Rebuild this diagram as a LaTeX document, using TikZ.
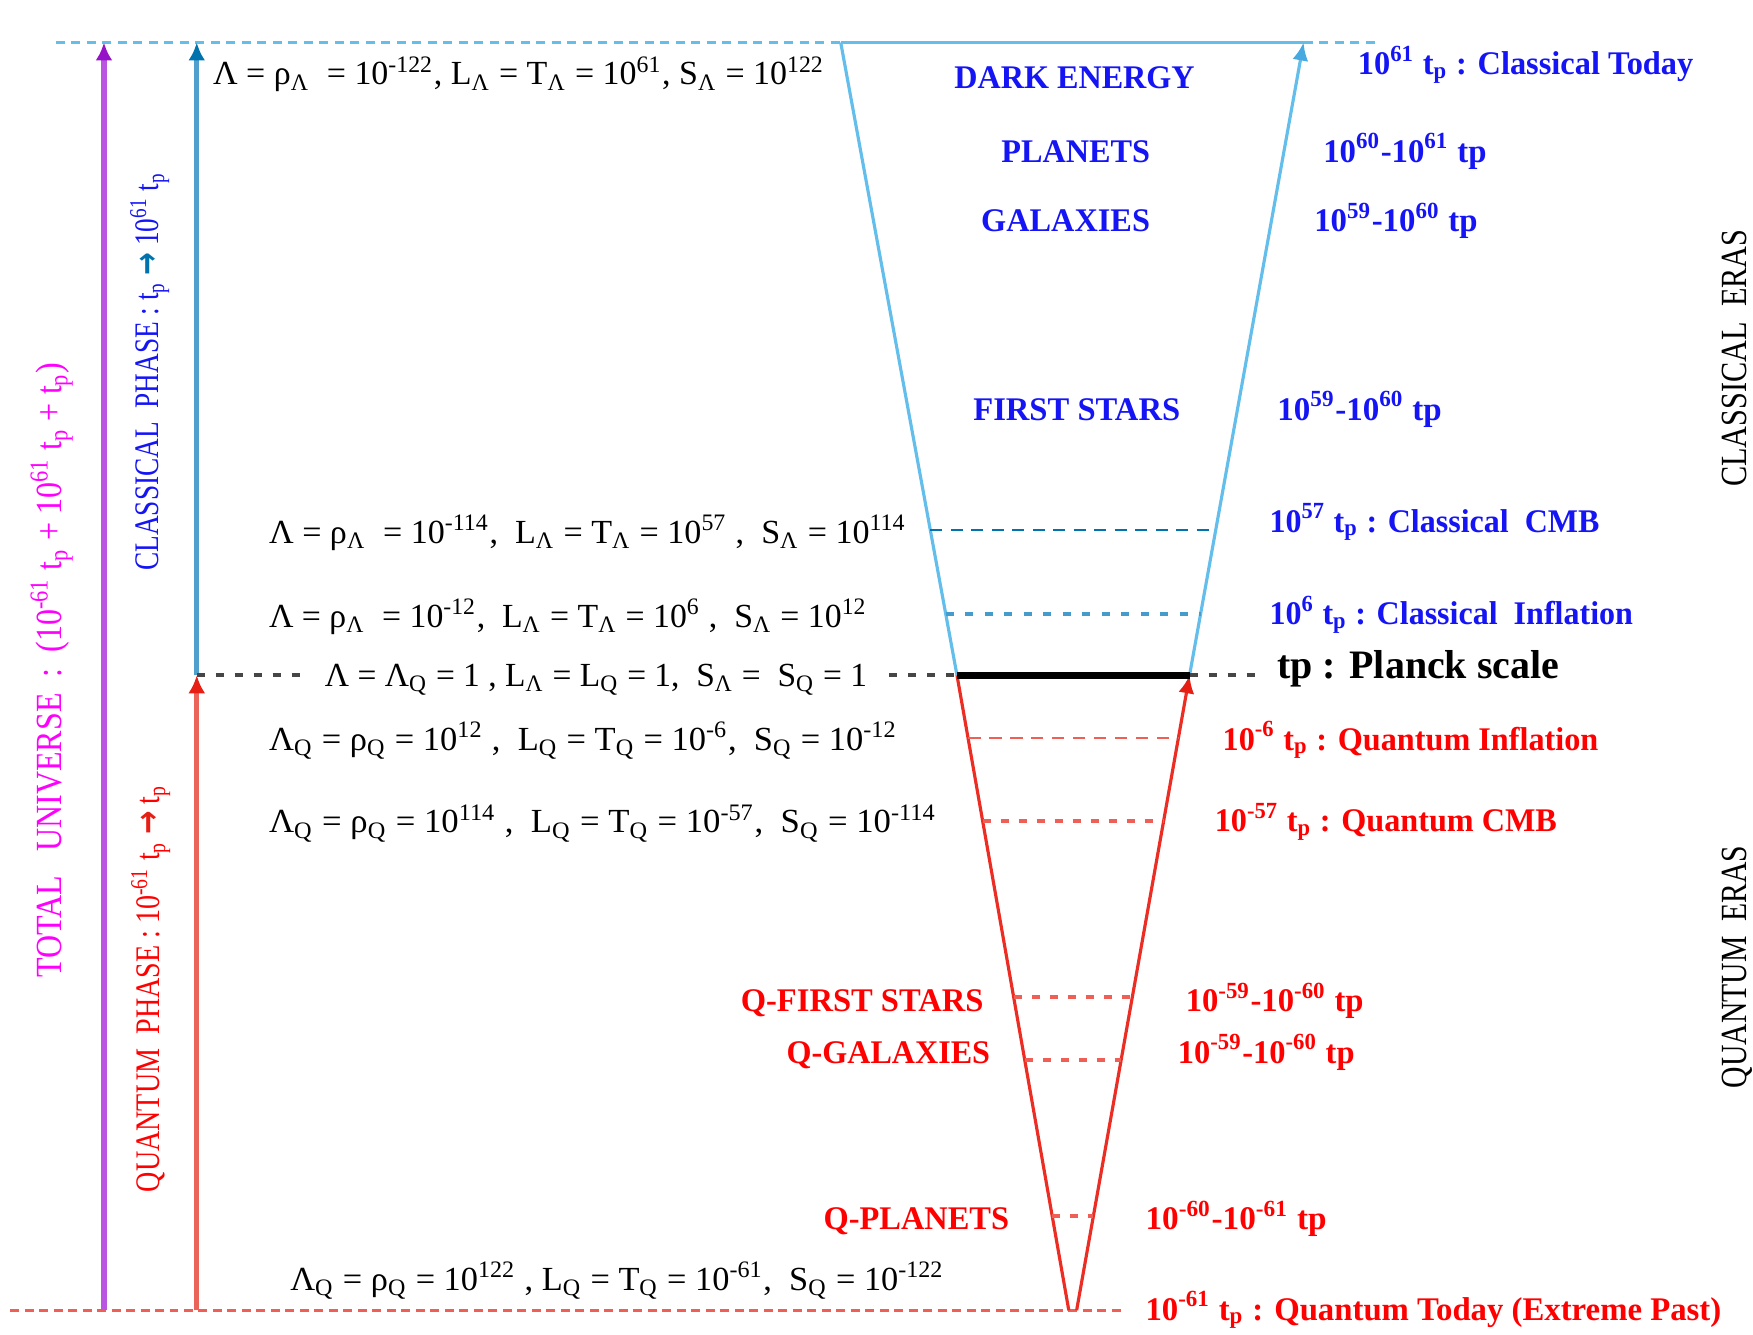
\documentclass[tikz,border=0pt]{standalone}
\usepackage{fontspec}
\setmainfont{Liberation Serif}
\newfontfamily\arrfont{DejaVu Sans}
\usepackage{graphicx}
\usetikzlibrary{arrows.meta,calc}
\newlength\pxu
\setlength\pxu{0.0111798cm}
\newcommand\fitw[2]{\resizebox{#1\pxu}{\height}{#2}}
\newcommand\up[1]{\textsuperscript{#1}}
\newcommand\dn[1]{\textsubscript{#1}}
\newcommand\rarr[1]{\textcolor{#1}{{\arrfont\bfseries →}}}
\definecolor{cpurple}{RGB}{185,85,225}
\definecolor{cpurpleh}{RGB}{150,20,200}
\definecolor{cblue}{RGB}{80,160,205}
\definecolor{cblueh}{RGB}{0,115,175}
\definecolor{csky}{RGB}{100,190,235}
\definecolor{cskyh}{RGB}{70,170,225}
\definecolor{cred}{RGB}{235,100,90}
\definecolor{credh}{RGB}{230,30,20}
\definecolor{cvred}{RGB}{235,45,35}
\definecolor{cdred}{RGB}{240,95,85}
\definecolor{cdblue}{RGB}{0,115,175}
\definecolor{cmblue}{RGB}{70,155,205}
\definecolor{cgray}{RGB}{70,70,70}
\definecolor{ctxtblue}{RGB}{20,20,245}
\definecolor{ctxtred}{RGB}{255,0,0}
\definecolor{cmag}{RGB}{255,0,255}
\begin{document}
\begin{tikzpicture}[x=0.0111798cm,y=-0.0111798cm,
  txt/.style={inner sep=0pt, anchor=base west},
  fm/.style={txt, font=\fontsize{9.6}{11}\selectfont, text=black},
  bl/.style={txt, font=\fontsize{9.4}{11}\selectfont\bfseries, text=ctxtblue},
  rd/.style={txt, font=\fontsize{9.4}{11}\selectfont\bfseries, text=ctxtred},
  vt/.style={txt, rotate=90, font=\fontsize{9.8}{11}\selectfont},
  topdash/.style={csky, line width=0.6pt, dash pattern=on 0.9mm off 0.65mm},
  botdash/.style={cdred, line width=0.7pt, dash pattern=on 0.9mm off 0.55mm},
  pdash/.style={cgray, line width=1.1pt, dash pattern=on 0.8mm off 1.1mm},
  cmbdash/.style={cdblue, line width=0.6pt, dash pattern=on 1.2mm off 0.85mm},
  infdash/.style={cmblue, line width=1.1pt, dash pattern=on 0.8mm off 1.15mm},
  qidash/.style={cdred, line width=0.6pt, dash pattern=on 1.25mm off 0.85mm},
  qdot/.style={cdred, line width=1.2pt, dash pattern=on 0.8mm off 1.0mm},
  funnel/.style={csky, line width=0.9pt},
  vee/.style={cvred, line width=0.9pt},
  tipP/.style={-{Latex[length=1.8mm,width=1.7mm,color=cpurpleh]}},
  tipB/.style={-{Latex[length=1.8mm,width=1.7mm,color=cblueh]}},
  tipR/.style={-{Latex[length=1.8mm,width=1.7mm,color=credh]}},
  tipS/.style={-{Latex[length=1.8mm,width=1.6mm,color=cskyh]}},
  tipV/.style={-{Latex[length=1.8mm,width=1.6mm,color=credh]}}
]
\useasboundingbox (0,0) rectangle (1568,1194);

% key coordinates
\coordinate (TL) at (752,38);
\coordinate (TR) at (1166,38);
\coordinate (PL) at (856,604);
\coordinate (PR) at (1064,604);
\coordinate (AL) at (956,1172);
\coordinate (AR) at (963,1172);
\coordinate (pB) at (93,1172);
\coordinate (pT) at (93,38);
\coordinate (bT) at (176,38);
\coordinate (mid) at (176,604);
\coordinate (rB) at (176,1172);
\coordinate (tdL) at (50,38);
\coordinate (tdR) at (1232,38);
\coordinate (bdL) at (9,1172);
\coordinate (bdR) at (1006,1172);
\coordinate (pdR) at (1125,604);

% top and bottom dashed lines
\draw[topdash] (tdL) -- (TL);
\draw[topdash] (TR) -- (tdR);
\draw[botdash] (bdL) -- (bdR);

% funnel (classical)
\draw[funnel] (TL) -- (TR);
\draw[funnel] (PL) -- (TL);
\draw[funnel, tipS] (PR) -- (TR);

% inner classical lines
\draw[cmbdash] ($(PL)!0.2297!(TL)$) -- ($(PR)!0.2297!(TR)$);
\draw[infdash] ($(PL)!0.0972!(TL)$) -- ($(PR)!0.0972!(TR)$);

% quantum V
\draw[vee] (PL) -- (AL);
\draw[vee, tipV] (AR) -- (PR);
\draw[qidash] ($(PL)!0.0986!(AL)$) -- ($(PR)!0.0986!(AR)$);
\draw[qdot] ($(PL)!0.2289!(AL)$) -- ($(PR)!0.2289!(AR)$);
\draw[qdot] ($(PL)!0.507!(AL)$) -- ($(PR)!0.507!(AR)$);
\draw[qdot] ($(PL)!0.6056!(AL)$) -- ($(PR)!0.6056!(AR)$);
\draw[qdot] ($(PL)!0.852!(AL)$) -- ($(PR)!0.852!(AR)$);

% left arrows
\draw[cpurple, line width=1.5pt, tipP] (pB) -- (pT);
\draw[cblue, line width=1.5pt, tipB] (mid) -- (bT);
\draw[cred, line width=1.5pt, tipR] (rB) -- (mid);

% formulas
\node[fm] (f1) at (190,76) {\fitw{547}{Λ = ρ\dn{Λ}\ \ = 10\up{-122},\ L\dn{Λ} = T\dn{Λ} = 10\up{61},\ S\dn{Λ} = 10\up{122}}};
\node[fm] (f2) at (240,486) {\fitw{570}{Λ = ρ\dn{Λ}\ \ = 10\up{-114},\ \ L\dn{Λ} = T\dn{Λ} = 10\up{57}\ ,\ \ S\dn{Λ} = 10\up{114}}};
\node[fm] (f3) at (240,561) {\fitw{535}{Λ = ρ\dn{Λ}\ \ = 10\up{-12},\ \ L\dn{Λ} = T\dn{Λ} = 10\up{6}\ ,\ \ S\dn{Λ} = 10\up{12}}};
\node[fm] (f4) at (290,614) {\fitw{485}{Λ = Λ\dn{Q} = 1 , L\dn{Λ} = L\dn{Q} = 1,\ \ S\dn{Λ} =\ \ S\dn{Q} = 1}};
\node[fm] (f5) at (240,671) {\fitw{562}{Λ\dn{Q} = ρ\dn{Q} = 10\up{12}\ ,\ \ L\dn{Q} = T\dn{Q} = 10\up{-6},\ \ S\dn{Q} = 10\up{-12}}};
\node[fm] (f6) at (240,745) {\fitw{597}{Λ\dn{Q} = ρ\dn{Q} = 10\up{114}\ ,\ \ L\dn{Q} = T\dn{Q} = 10\up{-57},\ \ S\dn{Q} = 10\up{-114}}};
\node[fm] (f7) at (259,1154) {\fitw{585}{Λ\dn{Q} = ρ\dn{Q} = 10\up{122}\ ,\ L\dn{Q} = T\dn{Q} = 10\up{-61},\ \ S\dn{Q} = 10\up{-122}}};

% Planck line
\draw[pdash] (mid) -- ($(f4.west |- mid)+(-16,0)$);
\draw[pdash] ($(f4.east |- mid)+(19,0)$) -- (PL);
\draw[pdash] (PR) -- (pdR);
\draw[black, line width=2pt] (PL) -- (PR);

% classical labels in funnel
\node[bl] (de) at (853,79) {\fitw{215}{DARK ENERGY}};
\node[bl] (pl) at (895,145) {\fitw{133}{PLANETS}};
\node[bl] (ga) at (877,207) {\fitw{151}{GALAXIES}};
\node[bl] (fs) at (870,376) {\fitw{185}{FIRST STARS}};

% right classical labels
\node[bl] (r1) at (1214,67) {\fitw{300}{10\up{61} t\dn{p} : Classical Today}};
\node[bl] (r2) at (1183,145) {\fitw{146}{10\up{60}-10\up{61} tp}};
\node[bl] (r3) at (1175,207) {\fitw{146}{10\up{59}-10\up{60} tp}};
\node[bl] (r4) at (1142,376) {\fitw{147}{10\up{59}-10\up{60} tp}};
\node[bl] (r5) at (1135,476) {\fitw{295}{10\up{57} t\dn{p} : Classical\ \ CMB}};
\node[bl] (r6) at (1135,559) {\fitw{325}{10\up{6} t\dn{p} : Classical\ \ Inflation}};
\node[txt, font=\fontsize{11.5}{13}\selectfont\bfseries] (r7) at (1142,607) {\fitw{252}{tp : Planck scale}};

% right quantum labels
\node[rd] (q1) at (1093,671) {\fitw{336}{10\up{-6} t\dn{p} : Quantum Inflation}};
\node[rd] (q2) at (1086,744) {\fitw{306}{10\up{-57} t\dn{p} : Quantum CMB}};
\node[rd] (q3) at (1060,905) {\fitw{159}{10\up{-59}-10\up{-60} tp}};
\node[rd] (q4) at (1053,951) {\fitw{158}{10\up{-59}-10\up{-60} tp}};
\node[rd] (q5) at (1024,1100) {\fitw{162}{10\up{-60}-10\up{-61} tp}};
\node[rd] (q6) at (1024,1181) {\fitw{515}{10\up{-61} t\dn{p} : Quantum Today (Extreme Past)}};

% left quantum labels
\node[rd] (lq1) at (662,905) {\fitw{217}{Q-FIRST STARS}};
\node[rd] (lq2) at (703,951) {\fitw{182}{Q-GALAXIES}};
\node[rd] (lq3) at (736,1100) {\fitw{166}{Q-PLANETS}};

% vertical texts
\node[vt, text=cmag, font=\fontsize{10.5}{12}\selectfont] (tu) at (55,875) {\fitw{550}{TOTAL\ \ \ UNIVERSE\ \ :\ \ (10\up{-61} t\dn{p} + 10\up{61} t\dn{p} + t\dn{p})}};
\node[vt, text=ctxtblue] (cp) at (142,511) {\fitw{356}{CLASSICAL\ \ PHASE : t\dn{p} \rarr{cblueh} 10\up{61} t\dn{p}}};
\node[vt, text=ctxtred] (qp) at (143,1067) {\fitw{364}{QUANTUM\ \ PHASE : 10\up{-61} t\dn{p} \rarr{credh} t\dn{p}}};
\node[vt, text=black, font=\fontsize{10.5}{12}\selectfont] (ce) at (1562,436) {\fitw{230}{CLASSICAL\ \ ERAS}};
\node[vt, text=black, font=\fontsize{10.5}{12}\selectfont] (qe) at (1562,974) {\fitw{217}{QUANTUM\ \ ERAS}};
\end{tikzpicture}
\end{document}
